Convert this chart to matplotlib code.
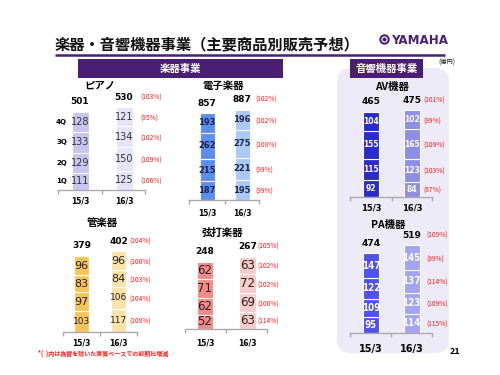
import numpy as np
import matplotlib
matplotlib.use('Agg')
import matplotlib.pyplot as plt
from matplotlib.patches import FancyBboxPatch, Rectangle, Circle

plt.rcParams['font.family'] = ['Noto Sans CJK JP', 'DejaVu Sans']

# data (億円), quarters 1Q..4Q bottom to top
years = ['15/3', '16/3']
quarters = ['1Q', '2Q', '3Q', '4Q']

piano_15 = [111, 129, 133, 128]
piano_16 = [125, 150, 134, 121]
piano_pct = ['(106%)', '(109%)', '(102%)', '(95%)']
piano_tot_pct = '(103%)'

elec_15 = [187, 215, 262, 193]
elec_16 = [195, 221, 275, 196]
elec_pct = ['(99%)', '(99%)', '(108%)', '(102%)']
elec_tot_pct = '(102%)'

av_15 = [92, 115, 155, 104]
av_16 = [84, 123, 165, 102]
av_pct = ['(87%)', '(103%)', '(109%)', '(99%)']
av_tot_pct = '(101%)'

wind_15 = [103, 97, 83, 96]
wind_16 = [117, 106, 84, 96]
wind_pct = ['(108%)', '(104%)', '(103%)', '(100%)']
wind_tot_pct = '(104%)'

string_15 = [52, 62, 71, 62]
string_16 = [63, 69, 72, 63]
string_pct = ['(114%)', '(106%)', '(102%)', '(102%)']
string_tot_pct = '(105%)'

pa_15 = [95, 109, 122, 147]
pa_16 = [114, 123, 137, 145]
pa_pct = ['(115%)', '(109%)', '(114%)', '(99%)']
pa_tot_pct = '(109%)'

totals = {
    'piano': (501, 530), 'elec': (857, 887), 'av': (465, 475),
    'wind': (379, 402), 'string': (248, 267), 'pa': (474, 519),
}

PURPLE = '#4a1f73'
RED = '#ff1a1a'

fig = plt.figure(figsize=(5, 3.75), dpi=100)
fig.patch.set_facecolor('white')

# overlay in pixel coords for slide decoration
ov = fig.add_axes([0, 0, 1, 1], zorder=0)
ov.set_xlim(0, 500)
ov.set_ylim(375, 0)
ov.axis('off')

ov.add_patch(FancyBboxPatch((337 + 14, 68 + 14), 112 - 28, 285 - 28,
                            boxstyle='round,pad=14', fc='#ecebf7', ec='none'))
ov.text(55, 44, '楽器・音響機器事業（主要商品別販売予想）', fontsize=11,
        fontweight='bold', va='center', ha='left', color='#111111')
ov.plot([55, 445], [54.5, 54.5], color=PURPLE, lw=1.8, solid_capstyle='butt')
ov.add_patch(Circle((384.5, 39.5), 5.2, fc=PURPLE, ec='none'))
ov.add_patch(Circle((384.5, 39.5), 2.6, fc='none', ec='white', lw=0.8))
ov.text(391, 40, 'YAMAHA', fontsize=9.5, fontweight='bold', color=PURPLE,
        family='DejaVu Sans', fontstretch='condensed', va='center', ha='left')

ov.add_patch(Rectangle((78, 59), 205, 19, fc=PURPLE, ec='none'))
ov.text(180.5, 69, '楽器事業', color='white', fontsize=7.5, fontweight='bold',
        ha='center', va='center')
ov.add_patch(Rectangle((350, 59), 73, 19, fc=PURPLE, ec='none'))
ov.text(386.5, 69, '音響機器事業', color='white', fontsize=7.5, fontweight='bold',
        ha='center', va='center')
ov.text(438, 63, '(億円)', fontsize=4.5, ha='left', va='center', color='#222222')

ov.text(100, 86, 'ピアノ', fontsize=7.5, fontweight='bold', ha='center', va='center')
ov.text(223, 86, '電子楽器', fontsize=7.5, fontweight='bold', ha='center', va='center')
ov.text(392, 87, 'AV機器', fontsize=7.5, fontweight='bold', ha='center', va='center')
ov.text(102, 223, '管楽器', fontsize=7.5, fontweight='bold', ha='center', va='center')
ov.text(222, 233, '弦打楽器', fontsize=7.5, fontweight='bold', ha='center', va='center')
ov.text(388, 225, 'PA機器', fontsize=7.5, fontweight='bold', ha='center', va='center')

ov.text(38, 353, '*(  )内は為替を除いた実質ベースでの前期比増減', fontsize=4.3,
        color=RED, ha='left', va='center', fontweight='bold')
ov.text(455, 352, '21', fontsize=6.5, fontweight='bold', ha='center', va='center')


def chart(v15, v16, tot, pct, tot_pct, c0, c1, w, base, ppu, left, right,
          colors, txt_color, txt_size, txt_weight, pct_x, lab_pad, lab_size,
          qlabels=False, condensed=False):
    unit = c1 - c0
    H = 130
    ax = fig.add_axes([left / 500, 1 - base / 375, (right - left) / 500, H / 375],
                      zorder=2)
    ax.set_facecolor('none')
    ax.set_xlim((left - c0) / unit, (right - c0) / unit)
    ax.set_ylim(0, H / ppu)
    for i, vals in enumerate([v15, v16]):
        vals = np.array(vals)
        bottoms = np.concatenate([[0], np.cumsum(vals)[:-1]])
        ax.bar([i] * 4, vals, bottom=bottoms, width=w / unit, color=colors[i],
               edgecolor='white', linewidth=0.8)
        for v, b in zip(vals, bottoms):
            sz = txt_size(v) if callable(txt_size) else txt_size
            ax.text(i, b + v / 2, str(v), ha='center', va='center', fontsize=sz,
                    color=txt_color, fontweight=txt_weight, family='DejaVu Sans',
                    fontstretch='condensed' if condensed else 'normal')
        ax.text(i, tot[i] + 10 / ppu, str(tot[i]), ha='center', va='center',
                fontsize=6.5, fontweight='bold', family='DejaVu Sans')
    px = (pct_x - c0) / unit
    b16 = np.concatenate([[0], np.cumsum(v16)[:-1]])
    for v, b, p in zip(v16, b16, pct):
        ax.text(px, b + v / 2 - 1.5 / ppu, p, color=RED, fontsize=4.8,
                ha='left', va='center', clip_on=False)
    ax.text(px, tot[1] + 10 / ppu, tot_pct, color=RED, fontsize=4.8,
            ha='left', va='center', clip_on=False)
    if qlabels:
        b15 = np.concatenate([[0], np.cumsum(v15)[:-1]])
        for q, v, b in zip(quarters, v15, b15):
            ax.text((67 - c0) / unit, b + v / 2, q, ha='right', va='center',
                    fontsize=5, fontweight='bold', family='DejaVu Sans')
    for s in ['top', 'left', 'right']:
        ax.spines[s].set_visible(False)
    ax.spines['bottom'].set_color('#aaaaaa')
    ax.spines['bottom'].set_linewidth(1)
    ax.set_yticks([])
    ax.set_xticks([0, 1])
    ax.set_xticklabels(years, fontsize=lab_size, fontweight='bold', family='DejaVu Sans')
    ax.tick_params(axis='x', which='major', length=0, pad=lab_pad)
    xl = ax.get_xlim()
    ax.set_xticks([xl[0] + 0.01, 0.5, xl[1] - 0.01], minor=True)
    ax.tick_params(axis='x', which='minor', length=3, color='#aaaaaa', width=1)
    return ax


def wind_size(v):
    return 8 if v < 100 else 6.5


chart(piano_15, piano_16, totals['piano'], piano_pct, piano_tot_pct,
      80, 124, 17, 190, 78 / 501, 58, 145, ['#c6c6f1', '#e5e5f9'],
      '#333333', 7, 'normal', 140, 5, 5.5, qlabels=True)
chart(elec_15, elec_16, totals['elec'], elec_pct, elec_tot_pct,
      207, 242, 15, 200, 87 / 857, 189, 259, ['#5b8ef0', '#aac8f8'],
      '#1a2550', 6, 'bold', 255, 6, 5.5)
chart(av_15, av_16, totals['av'], av_pct, av_tot_pct,
      371, 412, 16, 197, 85 / 465, 350, 432, ['#2b2bca', '#8e8ee4'],
      'white', 5.5, 'bold', 423, 5, 6)
chart(wind_15, wind_16, totals['wind'], wind_pct, wind_tot_pct,
      81.5, 118.5, 15, 332, 76 / 379, 63, 137, ['#f9c55a', '#fde3a8'],
      '#222222', wind_size, 'normal', 129, 5, 5.5)
chart(string_15, string_16, totals['string'], string_pct, string_tot_pct,
      205, 247.5, 16.5, 329, 67 / 248, 185, 267, ['#f88a8a', '#fccbcb'],
      '#222222', 8.5, 'normal', 257, 7, 5.5)
chart(pa_15, pa_16, totals['pa'], pa_pct, pa_tot_pct,
      371, 411.5, 16, 333, 80 / 474, 350, 432, ['#5050ea', '#a4a4f2'],
      'white', 7, 'bold', 426, 8, 7, condensed=True)

fig.savefig('out.png', dpi=100)
